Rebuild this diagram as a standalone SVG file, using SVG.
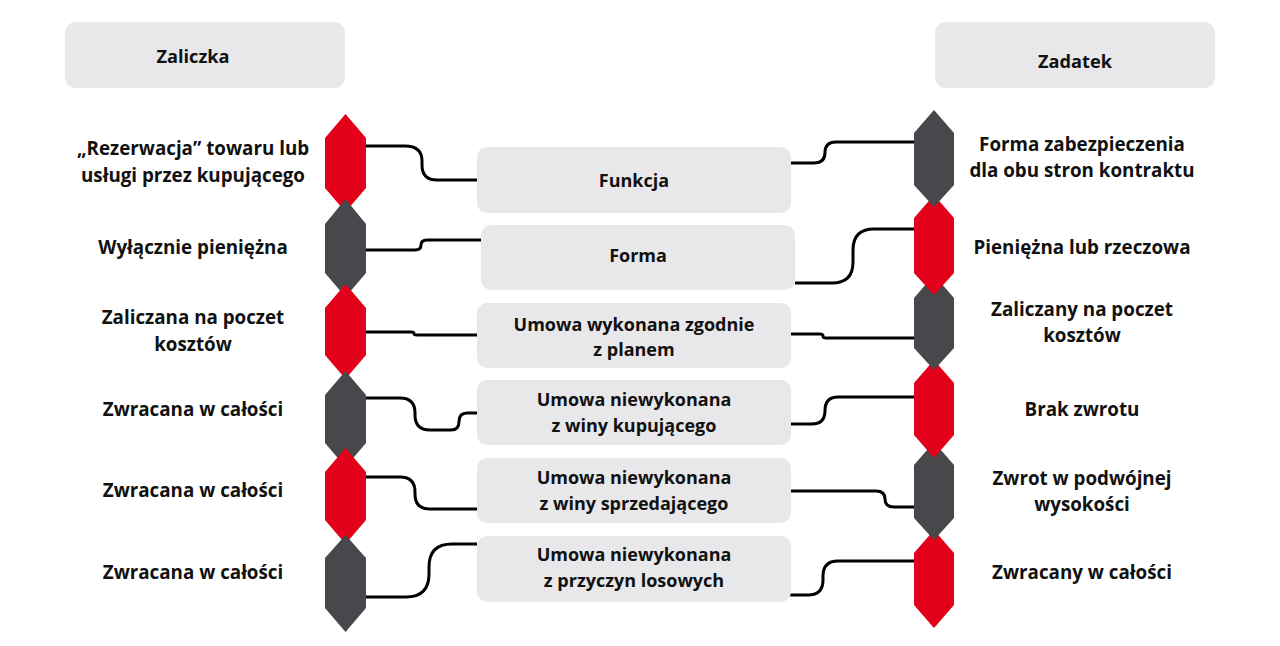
<svg xmlns="http://www.w3.org/2000/svg" width="1280" height="646" viewBox="0 0 1280 646">
<style>
.box{fill:#E8E8EA}
.red{fill:#E3001B}
.gray{fill:#47484B}
text{font-family:"Open Sans","Liberation Sans",sans-serif;font-weight:700;font-size:18.8px;fill:#111;text-anchor:middle}
.mid text{font-size:18px}
.hdr text{font-size:18.2px}
.conn path{fill:none;stroke:#000;stroke-width:3;stroke-linecap:butt;stroke-linejoin:round}
</style>
<rect width="1280" height="646" fill="#fff"/>
<g class="hdr" id="header-zaliczka"><rect class="box" x="65" y="22" width="280" height="66" rx="11"/><text x="193" y="63">Zaliczka</text></g>
<g class="hdr" id="header-zadatek"><rect class="box" x="935" y="22" width="280" height="66" rx="11"/><text x="1075" y="68">Zadatek</text></g>

<g class="conn" id="connectors">
<path d="M366,146 H405 Q422,146 422,161 V165 Q422,180 437,180 H477"/>
<path d="M366,250 H415 Q421,250 421,245 Q421,240 427,240 H481"/>
<path d="M366,332 H411 Q414,332 414,333.5 Q414,335 417,335 H477"/>
<path d="M366,398 H400 Q415,398 415,413 V415 Q415,430 430,430 H451 Q459,430 459,421.5 Q459,413 467,413 H477"/>
<path d="M366,477 H400 Q415,477 415,492 V494 Q415,509 430,509 H477"/>
<path d="M366,597 H406 Q429,597 429,574 V567 Q429,544 452,544 H477"/>
<path d="M791,163 H814 Q825,163 825,152.5 Q825,142 836,142 H914"/>
<path d="M795,283 H832 Q853,283 853,262 V250 Q853,229 874,229 H914"/>
<path d="M791,334 H820 Q823,334 823,336 Q823,338 826,338 H914"/>
<path d="M791,424 H812 Q825,424 825,410.5 Q825,397 838,397 H914"/>
<path d="M791,491 H876 Q885,491 885,499 Q885,507 894,507 H914"/>
<path d="M790,595 H808 Q823,595 823,580 V576 Q823,561 838,561 H914"/>
</g>

<g id="left-1"><polygon class="red" points="345.5,114 366,138 366,188 345.5,212 325,188 325,138"/><text x="193" y="155">„Rezerwacja” towaru lub</text><text x="193" y="182">usługi przez kupującego</text></g>
<g id="left-2"><polygon class="gray" points="345.5,199 366,224 366,273 345.5,297 325,273 325,224"/><text x="193" y="254">Wyłącznie pieniężna</text></g>
<g id="left-3"><polygon class="red" points="345.5,284 366,308 366,355 345.5,379 325,355 325,308"/><text x="193" y="324">Zaliczana na poczet</text><text x="193" y="351">kosztów</text></g>
<g id="left-4"><polygon class="gray" points="345.5,371 366,395 366,443 345.5,467 325,443 325,395"/><text x="193" y="416">Zwracana w całości</text></g>
<g id="left-5"><polygon class="red" points="345.5,448 366,472 366,520 345.5,544 325,520 325,472"/><text x="193" y="497">Zwracana w całości</text></g>
<g id="left-6"><polygon class="gray" points="345.5,535 366,558 366,608 345.5,632 325,608 325,558"/><text x="193" y="579">Zwracana w całości</text></g>

<g id="right-6"><polygon class="red" points="934,530 954,553 954,605 934,628 914,605 914,553"/><text x="1082" y="579">Zwracany w całości</text></g>
<g id="right-5"><polygon class="gray" points="934,442 954,465 954,518 934,540 914,518 914,465"/><text x="1082" y="485">Zwrot w podwójnej</text><text x="1082" y="511">wysokości</text></g>
<g id="right-4"><polygon class="red" points="934,360 954,383 954,435 934,458 914,435 914,383"/><text x="1082" y="416">Brak zwrotu</text></g>
<g id="right-3"><polygon class="gray" points="934,275 954,298 954,348 934,370 914,348 914,298"/><text x="1082" y="316">Zaliczany na poczet</text><text x="1082" y="342">kosztów</text></g>
<g id="right-2"><polygon class="red" points="934,195 954,218 954,273 934,295 914,273 914,218"/><text x="1082" y="254">Pieniężna lub rzeczowa</text></g>
<g id="right-1"><polygon class="gray" points="934,110 954,133 954,185 934,207 914,185 914,133"/><text x="1082" y="151">Forma zabezpieczenia</text><text x="1082" y="177">dla obu stron kontraktu</text></g>

<g class="mid" id="mid-1"><rect class="box" x="477" y="147" width="314" height="66" rx="10"/><text x="634" y="187">Funkcja</text></g>
<g class="mid" id="mid-2"><rect class="box" x="481" y="225" width="314" height="65" rx="10"/><text x="638" y="262">Forma</text></g>
<g class="mid" id="mid-3"><rect class="box" x="477" y="303" width="314" height="65" rx="10"/><text x="634" y="331">Umowa wykonana zgodnie</text><text x="634" y="356">z planem</text></g>
<g class="mid" id="mid-4"><rect class="box" x="477" y="380" width="314" height="65" rx="10"/><text x="634" y="406">Umowa niewykonana</text><text x="634" y="432">z winy kupującego</text></g>
<g class="mid" id="mid-5"><rect class="box" x="477" y="458" width="314" height="65" rx="10"/><text x="634" y="484">Umowa niewykonana</text><text x="634" y="510">z winy sprzedającego</text></g>
<g class="mid" id="mid-6"><rect class="box" x="477" y="536" width="314" height="66" rx="10"/><text x="634" y="561">Umowa niewykonana</text><text x="634" y="587">z przyczyn losowych</text></g>
</svg>
